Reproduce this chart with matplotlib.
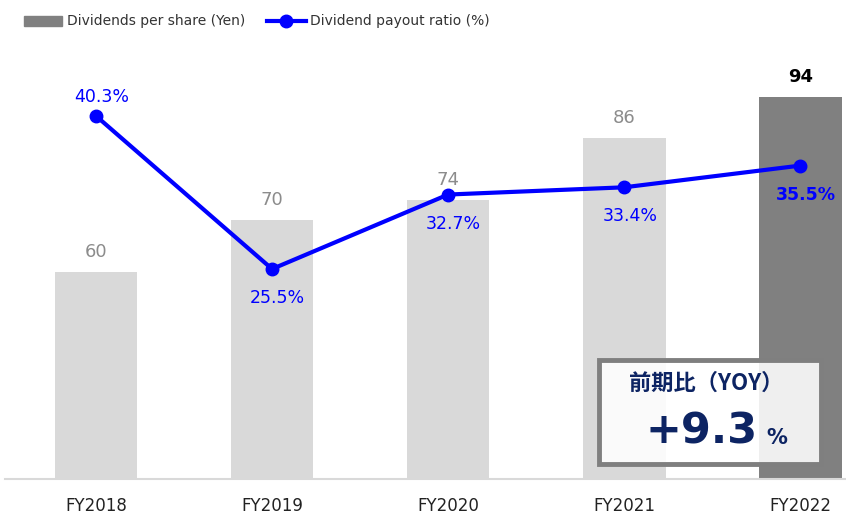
import matplotlib
matplotlib.use("Agg")
import matplotlib.pyplot as plt
from matplotlib.patches import Rectangle, Patch
from matplotlib.lines import Line2D

categories = ["FY2018", "FY2019", "FY2020", "FY2021", "FY2022"]
dividends = [60, 70, 74, 86, 94]
payout = [40.3, 25.5, 32.7, 33.4, 35.5]
yoy_label = "前期比（YOY）"
yoy_value = "+9.3"

W, H = 846, 517
fig = plt.figure(figsize=(W / 100, H / 100), dpi=100)
ax = fig.add_axes([5 / W, 38 / H, 841 / W, 439 / H])
ax2 = ax.twinx()

x = list(range(len(categories)))
bar_colors = ["#d9d9d9"] * (len(categories) - 1) + ["#808080"]
ax.bar(x, dividends, width=0.47, color=bar_colors, zorder=1)
ax.set_xlim(-0.517, 4.26)
ax.set_ylim(19.8, 19.8 + 439 / 5.15)

ax2.set_ylim(5.19, 5.19 + 439 / 10.34)
ax2.plot(x, payout, color="#0000ff", lw=3, marker="o", ms=9, zorder=3)

# bar labels
for i, v in enumerate(dividends):
    last = i == len(dividends) - 1
    ax.annotate(str(v), (i, v), xytext=(0, 8), textcoords="offset points",
                ha="center", va="bottom", fontsize=13,
                color="black" if last else "#8c8c8c",
                fontweight="bold" if last else "normal")

# payout labels
for i, v in enumerate(payout):
    last = i == len(payout) - 1
    dy = 14 if i == 0 else -21
    ax2.annotate(f"{v}%", (i, v), xytext=(4, dy), textcoords="offset points",
                 ha="center", va="center", fontsize=12.5, color="#0000ff",
                 fontweight="bold" if last else "normal")

for a in (ax, ax2):
    for s in ("top", "right", "left"):
        a.spines[s].set_visible(False)
    a.set_yticks([])
ax.spines["bottom"].set_color("#d9d9d9")
ax.spines["bottom"].set_linewidth(1.5)
ax2.spines["bottom"].set_visible(False)
ax.set_xticks(x)
ax.set_xticklabels(categories, fontsize=12, color="#222222")
ax.tick_params(axis="x", length=0, pad=13)

# legend
handles = [Patch(color="#808080", label="Dividends per share (Yen)"),
           Line2D([], [], color="#0000ff", lw=3, marker="o", ms=9,
                  label="Dividend payout ratio (%)")]
fig.legend(handles=handles, loc="upper left", bbox_to_anchor=(11 / W, 1 - 2 / H),
           ncol=2, frameon=False, fontsize=10, handlelength=2.8,
           handletextpad=0.3, columnspacing=1.6, labelcolor="#333333")

# YOY box
box = Rectangle((599 / W, 1 - 464 / H), 222 / W, 104 / H, transform=fig.transFigure,
                facecolor="white", alpha=0.88, edgecolor="none", zorder=5)
fig.add_artist(box)
border = Rectangle((599 / W, 1 - 464 / H), 222 / W, 104 / H, transform=fig.transFigure,
                   facecolor="none", edgecolor="#7f7f7f", lw=3.5, zorder=6)
fig.add_artist(border)
navy = "#0d2463"
fig.text(629 / W, 1 - 383 / H, yoy_label, fontsize=16, fontweight="bold",
         color=navy, ha="left", va="center", zorder=7,
         family=["Noto Sans CJK JP", "DejaVu Sans"])
fig.text(702 / W, 1 - 431 / H, yoy_value, fontsize=31, fontweight="bold",
         color=navy, ha="center", va="center", zorder=7, family="DejaVu Sans")
fig.text(766 / W, 1 - 438 / H, "%", fontsize=15, fontweight="bold",
         color=navy, ha="left", va="center", zorder=7, family="DejaVu Sans")

fig.savefig("out.png", dpi=100)
